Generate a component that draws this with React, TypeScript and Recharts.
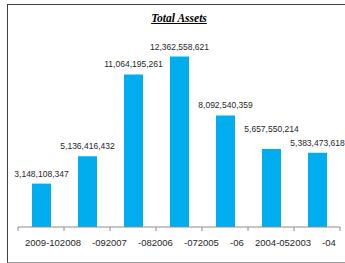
import { BarChart, Bar, XAxis, YAxis, LabelList } from "recharts";

// tick labels exactly as they show up in the picture (wrapped year labels run together)
const periods = ["2009-102008", "-092007", "-082006", "-072005", "-06", "2004-052003", "-04"];
const totalAssets = [
  3148108347, 5136416432, 11064195261, 12362558621, 8092540359, 5657550214, 5383473618,
];
const yMax = 14000000000;

const chartData = periods.map((period, i) => ({ period, total: totalAssets[i] }));

const AXIS_GREY = "#8c8c8c";
const TEXT = "#262626";
const FONT = "'Liberation Sans', Arial, sans-serif";

function PeriodTick(props: any) {
  const { x, y, payload, index, visibleTicksCount } = props;
  const half = payload?.offset ?? 23;
  const label = String(payload.value);
  // labels starting with a year sit left of the band, the "-xx" tails sit right of centre
  const startsWithYear = label.startsWith("20");
  const tx = startsWithYear ? x - 16 : x + 5;
  const isLast = index === (visibleTicksCount ?? periods.length) - 1;
  return (
    <g>
      <line x1={x - half} y1={y} x2={x - half} y2={y + 4} stroke={AXIS_GREY} />
      {isLast && <line x1={x + half} y1={y} x2={x + half} y2={y + 4} stroke={AXIS_GREY} />}
      <text x={tx} y={y + 19} textAnchor="start" fontSize={9.5} fontFamily={FONT} fill={TEXT}>
        {label}
      </text>
    </g>
  );
}

// value label above each bar; the 2004-05 label was nudged up in the original to clear its neighbour
function ValueLabel(props: any) {
  const { x, y, width, value, index } = props;
  const lift = index === 5 ? 10 : 0;
  return (
    <text
      x={x + width / 2}
      y={y - 7 - lift}
      textAnchor="middle"
      fontSize={8.5}
      fontFamily={FONT}
      fill={TEXT}
    >
      {Number(value).toLocaleString("en-US")}
    </text>
  );
}

export default function App() {
  return (
    <div style={{ position: "absolute", left: 0, top: 0, width: 345, height: 263, overflow: "hidden", background: "#fff" }}>
      <div
        style={{
          position: "absolute",
          left: 0,
          width: 358,
          top: 12,
          textAlign: "center",
          fontFamily: "'Liberation Serif', 'Times New Roman', serif",
          fontWeight: "bold",
          fontStyle: "italic",
          textDecoration: "underline",
          fontSize: 11.5,
          color: "#000",
        }}
      >
        Total Assets
      </div>
      <div style={{ position: "absolute", left: 0, top: 0 }}>
        <BarChart
          width={345}
          height={263}
          data={chartData}
          margin={{ top: 34, right: 5, left: 18, bottom: 6 }}
        >
          <XAxis
            dataKey="period"
            height={30}
            tickLine={false}
            tickSize={0}
            tickMargin={0}
            axisLine={{ stroke: AXIS_GREY }}
            interval={0}
            tick={<PeriodTick />}
          />
          <YAxis hide domain={[0, yMax]} />
          <Bar dataKey="total" fill="#00AEEF" barSize={19} isAnimationActive={false}>
            <LabelList dataKey="total" content={<ValueLabel />} />
          </Bar>
        </BarChart>
      </div>
      {/* chart-area frame: top, left and bottom edges only */}
      <div
        style={{
          position: "absolute",
          left: 7,
          top: 4,
          width: 345,
          height: 257,
          borderTop: "1px solid #404040",
          borderLeft: "1px solid #404040",
          borderBottom: "1px solid #9a9a9a",
          pointerEvents: "none",
        }}
      />
    </div>
  );
}
